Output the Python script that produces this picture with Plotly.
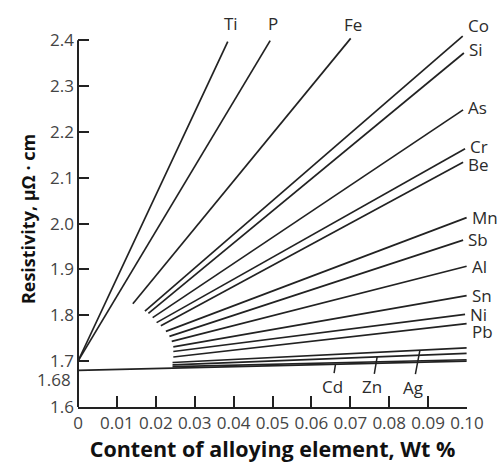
import plotly.graph_objects as go

# ---- data ----
elements = ["Ti", "P", "Fe", "Co", "Si", "As", "Cr", "Be", "Mn", "Sb", "Al",
            "Sn", "Ni", "Pb", "Ag", "Zn", "", "Cd"]
x_start = [0.0, 0.0, 0.0141, 0.0172, 0.0181, 0.0192, 0.0202, 0.0213, 0.0226,
           0.0235, 0.0241, 0.0245, 0.0245, 0.0245, 0.0243, 0.0243, 0.0243, 0.0]
y_start = [1.700, 1.700, 1.825, 1.809, 1.804, 1.795, 1.784, 1.777, 1.765,
           1.754, 1.743, 1.731, 1.721, 1.709, 1.697, 1.692, 1.688, 1.680]
x_end = [0.0385, 0.0494, 0.0701, 0.0989, 0.0992, 0.0990, 0.0995, 0.0990,
         0.0999, 0.0990, 0.0999, 0.0999, 0.0995, 0.0999, 0.0999, 0.0999,
         0.0999, 0.0999]
y_end = [2.397, 2.399, 2.404, 2.409, 2.372, 2.248, 2.163, 2.134, 2.013,
         1.964, 1.907, 1.843, 1.802, 1.782, 1.729, 1.717, 1.703, 1.700]

x_ticks = [0, 0.01, 0.02, 0.03, 0.04, 0.05, 0.06, 0.07, 0.08, 0.09, 0.10]
x_ticktext = ["0", "0.01", "0.02", "0.03", "0.04", "0.05", "0.06", "0.07",
              "0.08", "0.09", "0.10"]
y_ticks = [1.6, 1.7, 1.8, 1.9, 2.0, 2.1, 2.2, 2.3, 2.4]
y_ticktext = ["1.6", "1.7", "1.8", "1.9", "2.0", "2.1", "2.2", "2.3", "2.4"]
extra_ylabel = 1.68

top_labels = ["Ti", "P", "Fe"]
bottom_labels = {"Cd": 0.0662, "Zn": 0.0769, "Ag": 0.0879}  # leader x position

# ---- styling ----
FONT = "Open Sans"
LINE_COLOR = "#222222"
TEXT_COLOR = "#2b2b2b"
TICK_COLOR = "#444444"
LABEL_SIZE = 17
Y_RANGE = [1.6, 2.42]

right_shift = {"Co": 11, "Si": 4, "As": 2, "Cr": 2, "Be": -2, "Mn": 0, "Sb": 1,
               "Al": 0, "Sn": 0, "Ni": 0, "Pb": -8}
top_shift = {"Ti": (3, 18), "P": (3, 17), "Fe": (2, 14)}
bottom_offset = {"Cd": (-3.5, 22), "Zn": (-5, 30), "Ag": (-7, 37)}

fig = go.Figure()
for name, xs, ys, xe, ye in zip(elements, x_start, y_start, x_end, y_end):
    fig.add_trace(go.Scatter(x=[xs, xe], y=[ys, ye], mode="lines",
                             line=dict(color=LINE_COLOR, width=1.7),
                             name=name or "unlabeled", showlegend=False,
                             hoverinfo="skip"))

annotations = []
for name, xe, ye in zip(elements, x_end, y_end):
    if name in top_labels:
        dx, dy = top_shift[name]
        annotations.append(dict(x=xe, y=ye, text=name, showarrow=False,
                                xanchor="center", yanchor="middle",
                                xshift=dx, yshift=dy,
                                font=dict(family=FONT, size=LABEL_SIZE, color=TEXT_COLOR)))
    elif name in right_shift:
        annotations.append(dict(x=xe, y=ye, text=name, showarrow=False,
                                xanchor="left", yanchor="middle",
                                xshift=3, yshift=right_shift[name],
                                font=dict(family=FONT, size=LABEL_SIZE, color=TEXT_COLOR)))

for name, xp in bottom_labels.items():
    i = elements.index(name)
    t = (xp - x_start[i]) / (x_end[i] - x_start[i])
    yp = y_start[i] + t * (y_end[i] - y_start[i])
    ax, ay = bottom_offset[name]
    annotations.append(dict(x=xp, y=yp, text=name, showarrow=True,
                            arrowhead=0, arrowwidth=1.5, arrowcolor=LINE_COLOR,
                            ax=ax, ay=ay, standoff=0, startstandoff=0,
                            font=dict(family=FONT, size=LABEL_SIZE, color=TEXT_COLOR)))

annotations.append(dict(x=0, y=extra_ylabel, xref="x", yref="y", text="1.68",
                        showarrow=False, xanchor="right", yanchor="middle",
                        xshift=-5, yshift=-9,
                        font=dict(family=FONT, size=LABEL_SIZE, color=TICK_COLOR)))


def ypaper(v):
    return (v - Y_RANGE[0]) / (Y_RANGE[1] - Y_RANGE[0])


# y-axis line drawn only from 1.6 to 2.4 (like the reference)
shapes = [dict(type="line", xref="paper", yref="paper",
               x0=0, x1=0, y0=ypaper(y_ticks[0]), y1=ypaper(y_ticks[-1]),
               line=dict(color=LINE_COLOR, width=2), layer="above")]

fig.update_layout(
    width=497, height=466,
    margin=dict(l=78, r=30, t=31, b=50),
    paper_bgcolor="white", plot_bgcolor="white",
    annotations=annotations, shapes=shapes,
    xaxis=dict(range=[0, 0.10], tickvals=x_ticks, ticktext=x_ticktext,
               tickangle=0, showgrid=False, zeroline=False,
               showline=True, linecolor=LINE_COLOR, linewidth=2,
               ticks="inside", ticklen=11, tickwidth=2, tickcolor=LINE_COLOR,
               tickfont=dict(family=FONT, size=LABEL_SIZE, color=TICK_COLOR),
               title=dict(text="<b>Content of alloying element, Wt %</b>",
                          font=dict(family=FONT, size=21.5, color="#111111"),
                          standoff=5)),
    yaxis=dict(range=Y_RANGE, tickvals=y_ticks, ticktext=y_ticktext,
               showgrid=False, zeroline=False, showline=False,
               ticks="inside", ticklen=11, tickwidth=2, tickcolor=LINE_COLOR,
               ticklabelstandoff=3,
               tickfont=dict(family=FONT, size=LABEL_SIZE, color=TICK_COLOR),
               title=dict(text="<b>Resistivity, μΩ · cm</b>",
                          font=dict(family=FONT, size=18, color="#111111"),
                          standoff=9)),
)

fig.write_html("out.html")
